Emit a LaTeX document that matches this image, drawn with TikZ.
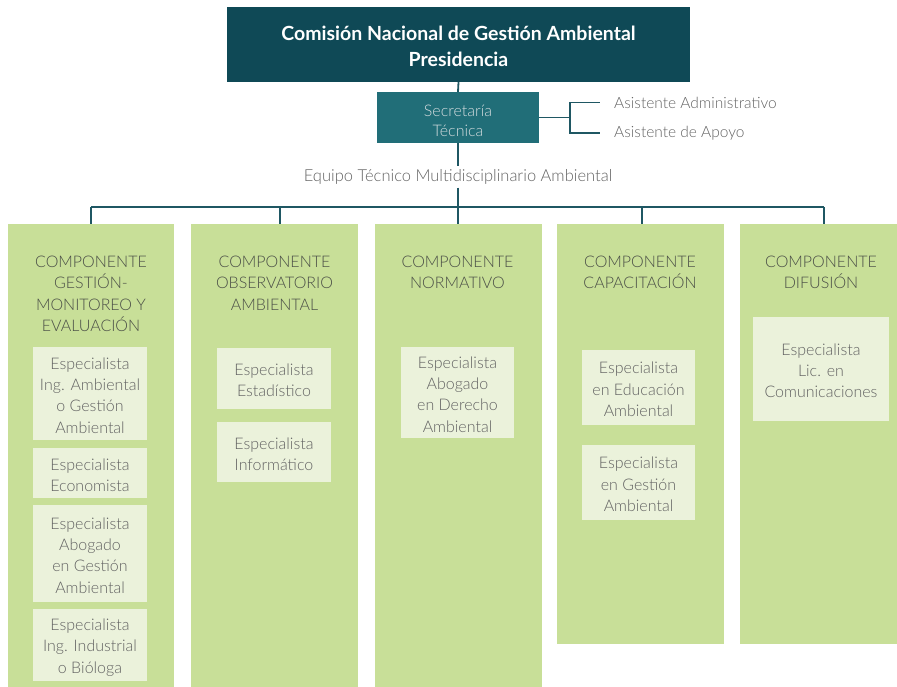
\documentclass[tikz,border=0pt]{standalone}
\usepackage{fontspec}
\IfFontExistsTF{Lato Light}{\setmainfont{Lato Light}}{\setmainfont{Lato}}
\newfontfamily\titlefont{Lato}
\newcommand\uprule[1]{\rule{0pt}{#1}}
\definecolor{navy}{HTML}{0F4956}
\definecolor{tealbox}{HTML}{216E78}
\definecolor{linec}{HTML}{1F5763}
\definecolor{colg}{HTML}{C8DF98}
\definecolor{boxg}{HTML}{EBF2DB}
\definecolor{txtd}{HTML}{4B4F47}
\definecolor{txtg}{HTML}{626262}
\definecolor{sectxt}{HTML}{D3DCDE}
\tikzset{
  conn/.style={draw=linec, line width=1.8pt},
  column/.style={fill=colg, draw=none, inner sep=0pt, anchor=north west},
  header/.style={anchor=north, inner sep=0pt, align=center, text=txtd,
    font=\fontsize{16}{21.3}\selectfont},
  spec/.style={fill=boxg, draw=none, inner sep=0pt, align=center, text=txtg,
    font=\fontsize{16}{21.3}\selectfont},
  plain/.style={inner sep=0pt, text=txtg, font=\fontsize{15.5}{20}\selectfont},
}
\begin{document}
\begin{tikzpicture}[x=1pt,y=-1pt]
\useasboundingbox (0,0) rectangle (897,687);
% top boxes
\node[fill=navy, minimum width=463pt, minimum height=75pt, inner sep=0pt,
  align=center, text=white, font=\titlefont\bfseries\fontsize{19.5}{26}\selectfont]
  (pres) at (458.5,44.5) {\uprule{18pt}Comisión Nacional de Gestión Ambiental\\Presidencia};
\node[fill=tealbox, minimum width=162pt, minimum height=51pt, inner sep=0pt,
  align=center, text=sectxt, font=\fontsize{16}{20}\selectfont]
  (sec) at (458,117.5) {\uprule{18pt}Secretaría\\Técnica};
\node[plain, inner ysep=3pt, font=\fontsize{16.5}{20}\selectfont] (equipo) at (458,177) {Equipo Técnico Multidisciplinario Ambiental};
\node[plain, anchor=west, inner xsep=14pt] (as1) at (600,102.5) {Asistente Administrativo};
\node[plain, anchor=west, inner xsep=14pt] (as2) at (600,133) {Asistente de Apoyo};
% columns
\node[column, minimum width=166pt, minimum height=463pt] (col1) at (8,224) {};
\node[column, minimum width=167pt, minimum height=463pt] (col2) at (191,224) {};
\node[column, minimum width=167pt, minimum height=463pt] (col3) at (375,224) {};
\node[column, minimum width=167pt, minimum height=420pt] (col4) at (557,224) {};
\node[column, minimum width=167pt, minimum height=420pt] (col5) at (740,224) {};
% headers
\node[header] (h1) at (91,256) {COMPONENTE\\GESTIÓN-\\MONITOREO Y\\EVALUACIÓN};
\node[header] (h2) at (274.5,256) {COMPONENTE\\OBSERVATORIO\\AMBIENTAL};
\node[header] (h3) at (457.5,256) {COMPONENTE\\NORMATIVO};
\node[header] (h4) at (640,256) {COMPONENTE\\CAPACITACIÓN};
\node[header] (h5) at (821,256) {COMPONENTE\\DIFUSIÓN};
% specialist boxes
\node[spec, minimum width=114pt, minimum height=93pt] (s11) at (90,393.5) {\uprule{15.5pt}Especialista\\Ing. Ambiental\\o Gestión\\Ambiental};
\node[spec, minimum width=114pt, minimum height=50pt] (s12) at (90,473) {\uprule{15.5pt}Especialista\\Economista};
\node[spec, minimum width=114pt, minimum height=97pt] (s13) at (90,553.5) {\uprule{15.5pt}Especialista\\Abogado\\en Gestión\\Ambiental};
\node[spec, minimum width=114pt, minimum height=72pt] (s14) at (90,645) {\uprule{16.5pt}Especialista\\Ing. Industrial\\o Bióloga};
\node[spec, minimum width=114pt, minimum height=61pt] (s21) at (274,378.5) {\uprule{15.5pt}Especialista\\Estadístico};
\node[spec, minimum width=114pt, minimum height=60pt] (s22) at (274,452) {\uprule{15.5pt}Especialista\\Informático};
\node[spec, minimum width=113pt, minimum height=91pt] (s31) at (457.5,392.5) {\uprule{15.5pt}Especialista\\Abogado\\en Derecho\\Ambiental};
\node[spec, minimum width=113pt, minimum height=75pt] (s41) at (638.5,387.5) {\uprule{15.5pt}Especialista\\en Educación\\Ambiental};
\node[spec, minimum width=113pt, minimum height=75pt] (s42) at (638.5,482.5) {\uprule{15.5pt}Especialista\\en Gestión\\Ambiental};
\node[spec, minimum width=136pt, minimum height=104pt] (s51) at (821,369) {\uprule{15.5pt}Especialista\\Lic. en\\Comunicaciones};
% connectors
\coordinate (b1) at (91,207);
\coordinate (b2) at (280,207);
\coordinate (b3) at (458,207);
\coordinate (b4) at (642,207);
\coordinate (b5) at (824,207);
\coordinate (br) at (570,117.5);
\draw[conn] (pres.south) -- (sec.north);
\draw[conn] (sec.south) -- (equipo.north);
\draw[conn] (equipo.south) -- (b3);
\draw[conn] (b1) -- (b5);
\draw[conn] (b1) -- (b1 |- col1.north);
\draw[conn] (b2) -- (b2 |- col2.north);
\draw[conn] (b3) -- (b3 |- col3.north);
\draw[conn] (b4) -- (b4 |- col4.north);
\draw[conn] (b5) -- (b5 |- col5.north);
\draw[conn] (sec.east) -- (br);
\draw[conn] (br) |- (as1.west);
\draw[conn] (br) |- (as2.west);
\end{tikzpicture}
\end{document}
